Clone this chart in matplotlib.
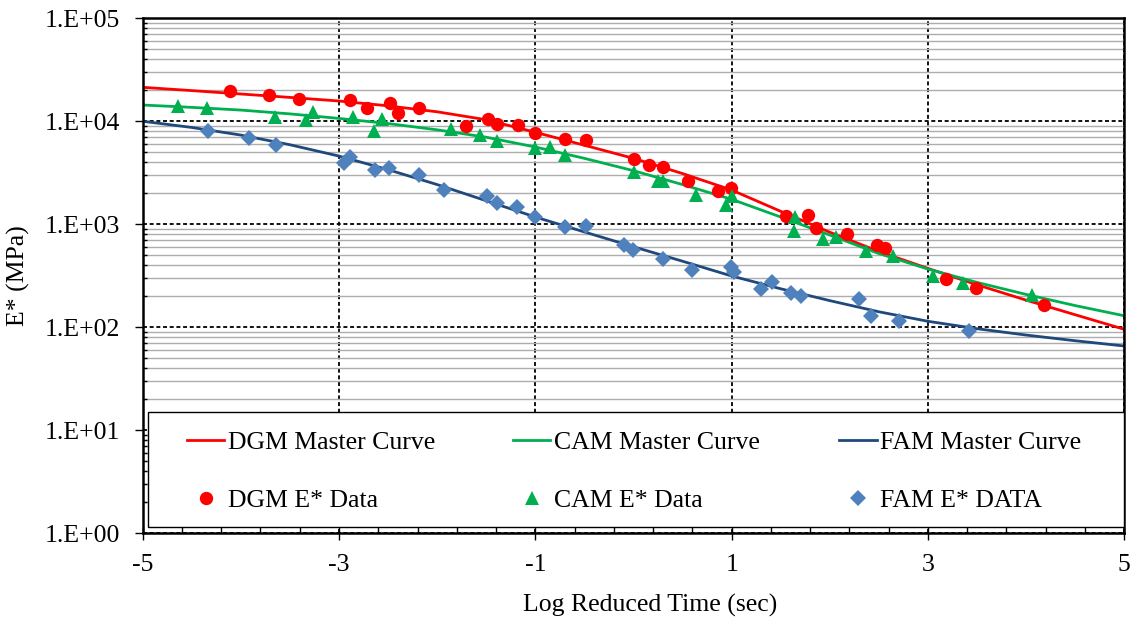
import numpy as np
import matplotlib
matplotlib.use("Agg")
import matplotlib.pyplot as plt
from matplotlib.ticker import FixedLocator, FuncFormatter, NullFormatter
from matplotlib.patches import Rectangle

plt.rcParams['font.family'] = ['Liberation Serif', 'DejaVu Serif']
plt.rcParams['font.size'] = 18.5

# ---- master curves: log reduced time (s) vs |E*| (MPa) ----
curve_time = [-5.0, -4.5, -4.0, -3.5, -3.0, -2.5, -2.0, -1.5, -1.0, -0.5, 0.0,
              0.5, 1.0, 1.5, 2.0, 2.5, 3.0, 3.5, 4.0, 4.5, 5.0]
dgm_curve = [21380, 19860, 18410, 17060, 15740, 14130, 12360, 10350, 7820, 5850, 4365,
             3105, 2148, 1334, 836, 543, 372, 258, 183, 132, 95.3]
cam_curve = [14390, 13650, 12850, 11800, 10660, 9506, 8260, 7000, 5623, 4365, 3311,
             2427, 1746, 1175, 785, 519, 367, 272, 208, 162, 129]
fam_curve = [10000, 8710, 7345, 5916, 4592, 3388, 2427, 1690, 1175, 841, 604,
             437, 314, 236, 181, 141, 114, 96.6, 83.8, 73.8, 65.6]

# ---- measured dynamic modulus ----
dgm_time = [-4.11, -3.71, -3.41, -2.89, -2.71, -2.48, -2.40, -2.18, -1.71, -1.48,
            -1.39, -1.18, -1.00, -0.70, -0.48, 0.01, 0.16, 0.30, 0.56, 0.86,
            0.99, 1.55, 1.78, 1.86, 2.18, 2.48, 2.56, 3.18, 3.49, 4.18]
dgm_modulus = [19800, 18100, 16440, 16080, 13360, 14940, 11940, 13540, 8990, 10510,
               9470, 9250, 7630, 6680, 6570, 4325, 3735, 3590, 2625, 2100,
               2232, 1214, 1242, 918, 808, 628, 583, 292, 238, 164]

cam_time = [-4.64, -4.34, -3.65, -3.34, -3.26, -2.86, -2.64, -2.56, -1.86, -1.56,
            -1.39, -1.00, -0.85, -0.70, 0.01, 0.25, 0.30, 0.64, 0.94, 1.00,
            1.65, 1.64, 1.93, 2.06, 2.37, 2.64, 3.05, 3.36, 4.06]
cam_modulus = [14060, 13360, 11070, 10210, 12300, 11070, 8040, 10440, 8410, 7300,
               6430, 5460, 5580, 4700, 3190, 2625, 2645, 1908, 1525, 1866,
               1183, 859, 713, 746, 549, 491, 316, 267, 205]

fam_time = [-4.33, -3.92, -3.64, -2.95, -2.89, -2.63, -2.49, -2.19, -1.93, -1.49,
            -1.39, -1.19, -1.00, -0.70, -0.48, -0.10, 0.00, 0.30, 0.60, 0.99,
            1.02, 1.30, 1.41, 1.60, 1.71, 2.30, 2.42, 2.71, 3.42]
fam_modulus = [8090, 6820, 5880, 3930, 4495, 3360, 3490, 2985, 2148, 1879,
               1618, 1479, 1183, 945, 960, 635, 568, 459, 359, 388,
               340, 233, 272, 216, 200, 187, 129, 115, 92.3]

x_ticks = [-5, -3, -1, 1, 3, 5]
y_ticks = [1, 10, 100, 1000, 10000, 100000]

RED = '#FF0000'
GREEN = '#00B050'
NAVY = '#1F497D'
STEEL = '#4F81BD'

fig = plt.figure(figsize=(11.37, 6.24), dpi=100)
ax = fig.add_axes([0.1255, 0.1458, 0.8633, 0.8248])
ax.set_yscale('log')
ax.set_xlim(-5, 5)
ax.set_ylim(1, 1e5)

# curves
l_dgm, = ax.plot(curve_time, dgm_curve, color=RED, lw=2.0, zorder=2)
l_cam, = ax.plot(curve_time, cam_curve, color=GREEN, lw=2.0, zorder=2)
l_fam, = ax.plot(curve_time, fam_curve, color=NAVY, lw=2.0, zorder=2)

# data markers
m_dgm, = ax.plot(dgm_time, dgm_modulus, ls='none', marker='o', ms=9.6,
                 mfc=RED, mec=RED, mew=0, zorder=3)
m_cam, = ax.plot(cam_time, cam_modulus, ls='none', marker='^', ms=9.6,
                 mfc=GREEN, mec=GREEN, mew=0, zorder=3)
m_fam, = ax.plot(fam_time, fam_modulus, ls='none', marker='D', ms=8.6,
                 mfc=STEEL, mec=STEEL, mew=0, zorder=3)

# axes, ticks and grid
ax.xaxis.set_major_locator(FixedLocator(x_ticks))
ax.xaxis.set_minor_locator(FixedLocator(np.linspace(-5, 5, 26)))
ax.xaxis.remove_overlapping_locs = False
ax.xaxis.set_major_formatter(FuncFormatter(lambda v, _: f"{int(round(v))}"))
ax.xaxis.set_minor_formatter(NullFormatter())

ax.yaxis.set_major_locator(FixedLocator(y_ticks))
ax.yaxis.set_minor_locator(FixedLocator(
    [k * 10.0 ** d for d in range(5) for k in range(2, 10)]))
ax.yaxis.set_major_formatter(
    FuncFormatter(lambda v, _: f"1.E+{int(round(np.log10(v))):02d}"))
ax.yaxis.set_minor_formatter(NullFormatter())

ax.tick_params(axis='y', which='major', direction='out', length=5.5, width=1.0,
               pad=11, labelsize=18.5)
ax.tick_params(axis='y', which='minor', direction='in', length=3, width=1.0)
ax.tick_params(axis='x', which='major', direction='out', length=5, width=1.0,
               pad=10, labelsize=18.5)
ax.tick_params(axis='x', which='minor', direction='in', length=4.3, width=1.0)

ax.set_axisbelow(True)
ax.grid(which='minor', axis='y', color='#ADADAD', lw=1.0, ls='-')
ax.grid(which='major', axis='both', color='black', lw=1.3, ls=(0, (2.2, 1.5)))

for sp in ax.spines.values():
    sp.set_linewidth(1.8)
    sp.set_color('black')

ax.set_xlabel('Log Reduced Time (sec)', fontsize=18.5)
ax.set_ylabel('E* (MPa)', fontsize=18.5)
ax.xaxis.label.set_va('center')
ax.xaxis.set_label_coords(0.517, -0.1399)
ax.yaxis.label.set_va('center')
ax.yaxis.set_label_coords(-0.127, 0.5)

# legend box with three columns
ax.add_patch(Rectangle((0.0051, 0.0117), 0.9949, 0.224, transform=ax.transAxes,
                       facecolor='white', edgecolor='black', lw=1.0, zorder=4))

columns = [
    ((l_dgm, m_dgm), ('DGM Master Curve', 'DGM E* Data'), 0.0451),
    ((l_cam, m_cam), ('CAM Master Curve', 'CAM E* Data'), 0.3775),
    ((l_fam, m_fam), ('FAM Master Curve', 'FAM E* DATA'), 0.7097),
]
legends = []
for handles, labels, x0 in columns:
    leg = ax.legend(handles=list(handles), labels=list(labels), loc='center left',
                    bbox_to_anchor=(x0, 0.1195), borderaxespad=0, borderpad=0,
                    frameon=False, handlelength=1.45, handletextpad=0.15,
                    labelspacing=1.38, fontsize=18.5)
    leg.set_zorder(5)
    legends.append(leg)
for leg in legends[:-1]:
    ax.add_artist(leg)

fig.savefig('out.png', dpi=100)
